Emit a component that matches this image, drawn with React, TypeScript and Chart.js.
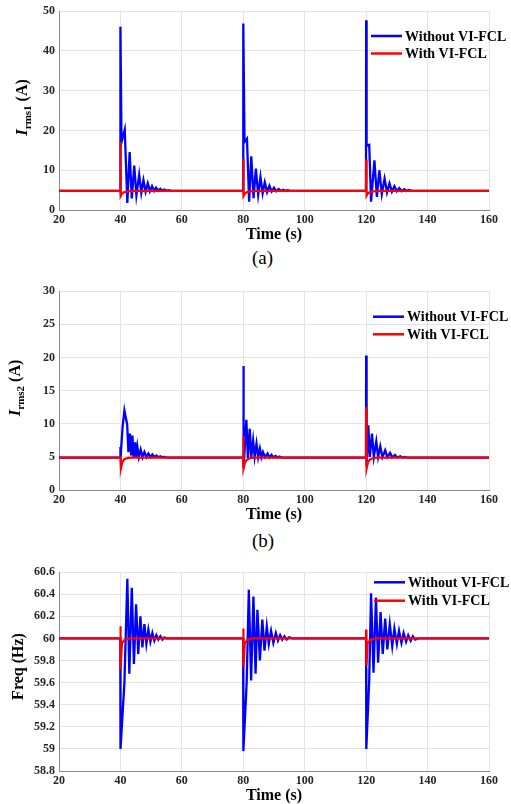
import React, { useEffect, useRef } from 'react';
import { Chart, registerables } from 'chart.js';
Chart.register(...registerables);

const FONT = '"Liberation Serif", "Times New Roman", serif';
const BLUE = 'rgb(0,0,255)';
const RED = 'rgb(255,0,0)';
const SERIES_LABELS = ['Without VI-FCL', 'With VI-FCL'];
const X_MIN = 20;
const X_MAX = 160;
const X_STEP = 20;
const X_TITLE = 'Time (s)';

// ---------- (a) Irms1 ----------
const i1WithoutT = [20, 39.95, 40.0, 40.35, 41.4, 42.25, 43.0, 43.7, 44.5, 45.2, 46.1, 46.8, 47.5, 48.2, 48.9, 49.6, 50.3, 51.0, 51.6, 52.3, 53.0, 53.6, 54.3, 55.0, 55.7, 56.5,
  79.95, 80.0, 80.4, 81.2, 81.9, 82.6, 83.35, 84.1, 84.85, 85.6, 86.3, 87.0, 87.75, 88.5, 89.25, 90.0, 90.75, 91.5, 92.25, 93.0, 93.75, 94.5, 95.2,
  119.95, 120.0, 120.15, 121.0, 121.6, 122.7, 123.5, 124.3, 125.1, 126.0, 126.8, 127.6, 128.4, 129.2, 130.0, 130.8, 131.6, 132.4, 133.2, 134.0, 134.8, 160];
const i1WithoutV = [4.8, 4.8, 46.1, 17.1, 20.2, 1.8, 14.6, 2.9, 11.2, 3.7, 8.9, 4.3, 7.5, 4.6, 6.7, 4.7, 6.0, 4.8, 5.6, 4.85, 5.35, 4.9, 5.15, 4.85, 5.0, 4.8,
  4.8, 46.9, 17.1, 17.9, 2.1, 13.5, 3.0, 10.4, 3.8, 8.3, 4.2, 7.0, 4.5, 6.1, 4.65, 5.6, 4.75, 5.3, 4.8, 5.1, 4.85, 5.0, 4.8,
  4.8, 47.7, 16.2, 16.4, 2.1, 12.5, 3.3, 10.0, 4.0, 7.9, 4.4, 6.7, 4.6, 6.0, 4.7, 5.5, 4.75, 5.25, 4.8, 5.05, 4.8, 4.8];
const i1WithT = [20, 39.95, 40.0, 40.15, 40.6, 41.3, 42.3, 44, 79.95, 80.0, 80.15, 80.6, 81.3, 82.3, 84, 119.95, 120.0, 120.15, 120.6, 121.3, 122.3, 124, 160];
const i1WithV = [4.8, 4.8, 17.1, 3.5, 4.2, 4.5, 4.7, 4.8, 4.8, 12.9, 3.5, 4.2, 4.5, 4.7, 4.8, 4.8, 12.7, 3.6, 4.2, 4.5, 4.7, 4.8, 4.8];

// ---------- (b) Irms2 ----------
const i2WithoutT = [20, 39.95, 40.0, 40.2, 40.7, 41.3, 41.8, 42.2, 42.6, 43.1, 43.5, 43.9, 44.3, 44.75, 45.1, 45.5, 46.0, 46.6, 47.2, 47.8, 48.5, 49.1, 49.8, 50.4, 51.0, 51.7, 52.3, 53.0, 53.6, 54.3, 55.0,
  79.95, 80.0, 80.2, 81.0, 81.5, 82.1, 82.6, 83.2, 83.7, 84.3, 84.85, 85.4, 85.9, 86.4, 87.1, 87.9, 88.5, 89.2, 89.8, 90.5, 91.2, 91.8, 92.5,
  119.95, 120.0, 120.15, 120.7, 121.2, 121.9, 122.5, 123.3, 123.9, 124.6, 125.3, 126.2, 126.9, 127.8, 128.5, 129.4, 130.1, 131.1, 131.8, 132.6, 133.3, 160];
const i2WithoutV = [4.9, 4.9, 6.5, 6.0, 9.5, 12.0, 10.8, 9.9, 5.7, 8.5, 5.2, 8.2, 5.0, 7.2, 5.0, 6.6, 4.95, 6.1, 4.95, 5.75, 4.95, 5.5, 4.95, 5.35, 4.95, 5.2, 4.95, 5.1, 4.95, 5.0, 4.9,
  4.9, 18.7, 3.3, 10.6, 4.8, 9.25, 5.0, 7.5, 5.0, 7.0, 4.95, 6.25, 4.95, 5.75, 4.95, 5.5, 4.9, 5.3, 4.9, 5.15, 4.9, 5.05, 4.9,
  4.9, 20.3, 3.5, 9.75, 5.0, 8.5, 5.0, 7.35, 5.0, 6.6, 4.95, 6.0, 4.95, 5.6, 4.9, 5.3, 4.9, 5.1, 4.9, 5.0, 4.9, 4.9];
const i2WithT = [20, 39.95, 40.15, 40.6, 41.4, 42.5, 44, 79.95, 80.0, 80.15, 80.6, 81.3, 82.5, 84, 119.95, 120.0, 120.15, 120.6, 121.3, 122.5, 124, 160];
const i2WithV = [4.9, 4.9, 3.25, 4.2, 4.7, 4.85, 4.9, 4.9, 8.15, 3.25, 4.2, 4.6, 4.85, 4.9, 4.9, 12.5, 3.25, 4.2, 4.6, 4.85, 4.9, 4.9];

// ---------- (c) Frequency ----------
const fWithoutT = [20, 39.95, 40.0, 40.05, 41.3, 42.25, 42.9, 43.7, 44.4, 45.1, 45.8, 46.5, 47.15, 47.8, 48.45, 49.1, 49.75, 50.4, 51.05, 51.7, 52.35, 53.0, 53.65, 54.3, 55.0,
  79.95, 80.0, 80.05, 81.1, 81.8, 82.55, 83.3, 84.0, 84.6, 85.4, 86.2, 86.9, 87.65, 88.3, 89.05, 89.8, 90.6, 91.3, 92.0, 92.7, 93.4, 94.1, 94.9, 96.0,
  119.95, 120.0, 120.05, 121.0, 121.6, 122.4, 123.2, 123.9, 124.7, 125.4, 126.2, 126.9, 127.7, 128.5, 129.2, 130.0, 130.7, 131.5, 132.2, 133.0, 133.7, 134.5, 135.2, 136.0, 137.0, 160];
const fWithoutV = [60, 60, 59.7, 59.0, 59.6, 60.54, 59.68, 60.46, 59.77, 60.31, 59.86, 60.2, 59.92, 60.13, 59.95, 60.08, 59.97, 60.05, 59.98, 60.03, 59.99, 60.02, 59.99, 60.01, 60,
  60, 59.73, 58.98, 59.6, 60.44, 59.62, 60.38, 59.68, 60.26, 59.8, 60.17, 59.89, 60.11, 59.95, 60.07, 59.96, 60.05, 59.98, 60.03, 59.99, 60.02, 59.99, 60.01, 60,
  60, 59.73, 59.0, 59.62, 60.41, 59.69, 60.37, 59.78, 60.24, 59.86, 60.18, 59.9, 60.13, 59.93, 60.09, 59.95, 60.07, 59.96, 60.05, 59.97, 60.03, 59.98, 60.02, 59.99, 60, 60];
const fWithT = [20, 39.95, 40.0, 40.1, 40.5, 41.5, 43, 79.95, 80.0, 80.1, 80.5, 81.5, 83, 119.95, 120.0, 120.1, 120.5, 121.5, 123, 160];
const fWithV = [60, 60, 60.11, 59.72, 59.96, 59.99, 60, 60, 60.09, 59.74, 59.96, 59.99, 60, 60, 60.08, 59.75, 59.96, 59.99, 60, 60];

type TitlePart = { text: string; font: string; dy: number };

interface PanelCfg {
  top: number;
  height: number;
  xAxisHeight: number;
  titlePadBottom: number;
  yMin: number;
  yMax: number;
  yStep: number;
  blue: { x: number; y: number }[];
  red: { x: number; y: number }[];
  yTitle: TitlePart[];
  yTitleX: number;
  yTitleCY: number;
  legendX: number;
  legendY: number[];
}

const pts = (t: number[], v: number[]) => t.map((x, i) => ({ x, y: v[i] }));

function Panel({ cfg }: { cfg: PanelCfg }) {
  const ref = useRef<HTMLCanvasElement>(null);
  useEffect(() => {
    if (!ref.current) return;
    const deco = {
      id: 'deco',
      afterDraw(chart: any) {
        const ctx = chart.ctx as CanvasRenderingContext2D;
        // y-axis title with mixed fonts
        ctx.save();
        const widths = cfg.yTitle.map((p) => {
          ctx.font = p.font;
          return ctx.measureText(p.text).width;
        });
        const total = widths.reduce((a, b) => a + b, 0);
        ctx.translate(cfg.yTitleX, cfg.yTitleCY);
        ctx.rotate(-Math.PI / 2);
        ctx.fillStyle = '#000';
        ctx.textBaseline = 'alphabetic';
        let x = -total / 2;
        cfg.yTitle.forEach((p, i) => {
          ctx.font = p.font;
          ctx.fillText(p.text, x, p.dy);
          x += widths[i];
        });
        ctx.restore();
        // legend
        ctx.save();
        const ds = chart.data.datasets;
        ds.forEach((d: any, i: number) => {
          const y = cfg.legendY[i];
          ctx.strokeStyle = d.borderColor;
          ctx.lineWidth = 2.5;
          ctx.beginPath();
          ctx.moveTo(cfg.legendX, y);
          ctx.lineTo(cfg.legendX + 31, y);
          ctx.stroke();
          ctx.fillStyle = '#000';
          ctx.font = `bold 14px ${FONT}`;
          ctx.textBaseline = 'middle';
          ctx.textAlign = 'left';
          ctx.fillText(d.label, cfg.legendX + 34, y + 1);
        });
        ctx.restore();
      },
    };
    const tickFont = { family: FONT, size: 12, weight: 'bold' as const };
    const chart = new Chart(ref.current, {
      type: 'line',
      data: {
        datasets: [
          { label: SERIES_LABELS[0], data: cfg.blue, borderColor: BLUE, borderWidth: 2.3, pointRadius: 0, tension: 0, order: 1 },
          { label: SERIES_LABELS[1], data: cfg.red, borderColor: RED, borderWidth: 2.2, pointRadius: 0, tension: 0, order: 0 },
        ],
      },
      options: {
        animation: false,
        responsive: false,
        devicePixelRatio: 1,
        layout: { padding: { top: 10, right: 22, left: 0, bottom: 0 } },
        plugins: { legend: { display: false }, tooltip: { enabled: false } },
        scales: {
          x: {
            type: 'linear',
            min: X_MIN,
            max: X_MAX,
            ticks: { stepSize: X_STEP, font: tickFont, color: '#262626', padding: 3, maxRotation: 0 },
            grid: { color: '#e4e4e4', drawTicks: false },
            border: { display: true, color: '#8a8a8a', width: 1 },
            title: {
              display: true,
              text: X_TITLE,
              color: '#000',
              font: { family: FONT, size: 16, weight: 'bold', lineHeight: 1 },
              padding: { top: 0, bottom: cfg.titlePadBottom },
            },
            afterFit: (s: any) => {
              s.height = cfg.xAxisHeight;
            },
          },
          y: {
            type: 'linear',
            min: cfg.yMin,
            max: cfg.yMax,
            ticks: {
              stepSize: cfg.yStep,
              font: tickFont,
              color: '#262626',
              padding: 4,
              callback: (v: any) => String(Math.round(Number(v) * 10) / 10),
            },
            grid: { color: '#e4e4e4', drawTicks: false },
            border: { display: true, color: '#8a8a8a', width: 1 },
            afterFit: (s: any) => {
              s.width = 59;
            },
          },
        },
      },
      plugins: [deco],
    });
    return () => chart.destroy();
  }, [cfg]);
  return (
    <canvas
      ref={ref}
      width={511}
      height={cfg.height}
      style={{ position: 'absolute', left: 0, top: cfg.top, width: 511, height: cfg.height }}
    />
  );
}

const sub = (s: string): TitlePart[] => [
  { text: 'I', font: `italic bold 17px ${FONT}`, dy: 0 },
  { text: s, font: `bold 11px ${FONT}`, dy: 4 },
  { text: ' (A)', font: `bold 16px ${FONT}`, dy: 0 },
];

const panels: PanelCfg[] = [
  {
    top: 0, height: 246, xAxisHeight: 36, titlePadBottom: 3, yMin: 0, yMax: 50, yStep: 10,
    blue: pts(i1WithoutT, i1WithoutV), red: pts(i1WithT, i1WithV),
    yTitle: sub('rms1'), yTitleX: 27, yTitleCY: 107.5, legendX: 371, legendY: [36, 53.5],
  },
  {
    top: 280, height: 246, xAxisHeight: 36, titlePadBottom: 3, yMin: 0, yMax: 30, yStep: 5,
    blue: pts(i2WithoutT, i2WithoutV), red: pts(i2WithT, i2WithV),
    yTitle: sub('rms2'), yTitleX: 20, yTitleCY: 108, legendX: 373, legendY: [36.7, 54.3],
  },
  {
    top: 561, height: 243, xAxisHeight: 33, titlePadBottom: 0, yMin: 58.8, yMax: 60.6, yStep: 0.2,
    blue: pts(fWithoutT, fWithoutV), red: pts(fWithT, fWithV),
    yTitle: [{ text: 'Freq (Hz)', font: `bold 16px ${FONT}`, dy: 0 }], yTitleX: 23, yTitleCY: 105.5,
    legendX: 374, legendY: [21.3, 39.7],
  },
];

const captionStyle: React.CSSProperties = {
  position: 'absolute',
  fontFamily: FONT,
  fontSize: 19,
  lineHeight: '20px',
  color: '#000',
  whiteSpace: 'nowrap',
};

export default function App() {
  return (
    <div style={{ position: 'absolute', left: 0, top: 0, width: 511, height: 804, overflow: 'hidden', background: '#fff' }}>
      {panels.map((p, i) => (
        <Panel key={i} cfg={p} />
      ))}
      <div style={{ ...captionStyle, left: 252, top: 248 }}>(a)</div>
      <div style={{ ...captionStyle, left: 252, top: 531 }}>(b)</div>
    </div>
  );
}
